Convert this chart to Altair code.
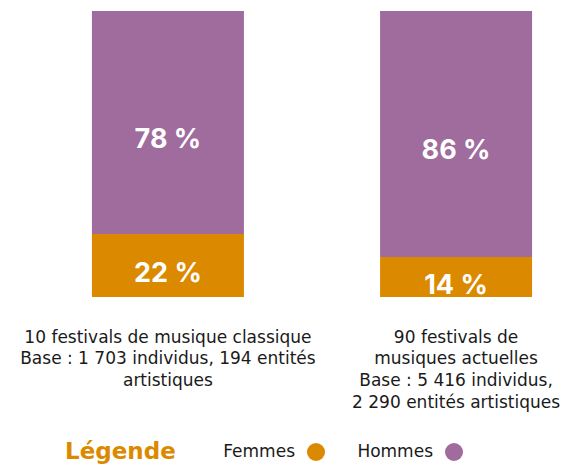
import altair as alt
import pandas as pd

categories = [
    "10 festivals de musique classique|Base : 1 703 individus, 194 entités|artistiques",
    "90 festivals de|musiques actuelles|Base : 5 416 individus,|2 290 entités artistiques",
]
genres = ["Femmes", "Hommes"]
femmes = [22, 14]
hommes = [78, 86]

colors = ["#DB8A00", "#A06B9D"]

rows = []
for i, c in enumerate(categories):
    rows.append({"cat": c, "genre": "Femmes", "value": femmes[i], "ord": 0})
    rows.append({"cat": c, "genre": "Hommes", "value": hommes[i], "ord": 1})
df = pd.DataFrame(rows)

FONT = "DejaVu Sans"
NUMFONT = "Inter"

base = alt.Chart(df).transform_stack(
    stack="value", groupby=["cat"], sort=[alt.SortField("ord")], as_=["y0", "y1"]
).transform_calculate(
    mid="(datum.y0 + datum.y1) / 2",
    lab="datum.value + ' %'",
)

xenc = alt.X(
    "cat:N",
    sort=categories,
    scale=alt.Scale(paddingInner=0.473, paddingOuter=0),
    axis=alt.Axis(
        title=None, domain=False, ticks=False, labelAngle=0,
        labelExpr="split(datum.label, '|')",
        labelFont=FONT, labelFontSize=17, labelColor="#1a1a1a",
        labelPadding=32, labelLineHeight=21.7, labelLimit=400,
        labelBaseline="top",
    ),
)
yscale = alt.Scale(domain=[0, 100], nice=False, zero=True)

bars = base.mark_bar(size=152).encode(
    x=xenc,
    y=alt.Y("y0:Q", scale=yscale, axis=None),
    y2="y1:Q",
    color=alt.Color(
        "genre:N",
        scale=alt.Scale(domain=genres, range=colors),
        legend=alt.Legend(
            title="Légende", orient="none", direction="horizontal",
            legendX=-27, legendY=432,
            titleOrient="left", titleFont=FONT, titleFontSize=23,
            titleFontWeight="bold", titleColor="#DB8A00", titlePadding=131,
            titleBaseline="middle",
            labelFont=FONT, labelFontSize=17, labelColor="#1a1a1a",
            labelAlign="right", labelOffset={"expr": "-30"},
            symbolType="circle", symbolSize=324, symbolStrokeWidth=0,
            symbolOpacity=1, columnPadding=32,
        ),
    ),
    order=alt.Order("ord:Q"),
)

text = base.transform_calculate(
    ty="datum.genre == 'Hommes' ? datum.mid - 6 : datum.mid - 3"
).mark_text(
    font=NUMFONT, fontSize=27, fontWeight="bold", color="white", baseline="middle"
).encode(
    x=alt.X("cat:N", sort=categories),
    y=alt.Y("ty:Q", scale=yscale),
    text="lab:N",
)

chart = alt.layer(bars, text).properties(
    width=440, height=286,
    padding={"left": 84, "top": 3, "right": 35, "bottom": 175},
    autosize="none",
).configure_view(stroke=None)

chart.save("out.html", embed_options={"renderer": "svg", "actions": False})
